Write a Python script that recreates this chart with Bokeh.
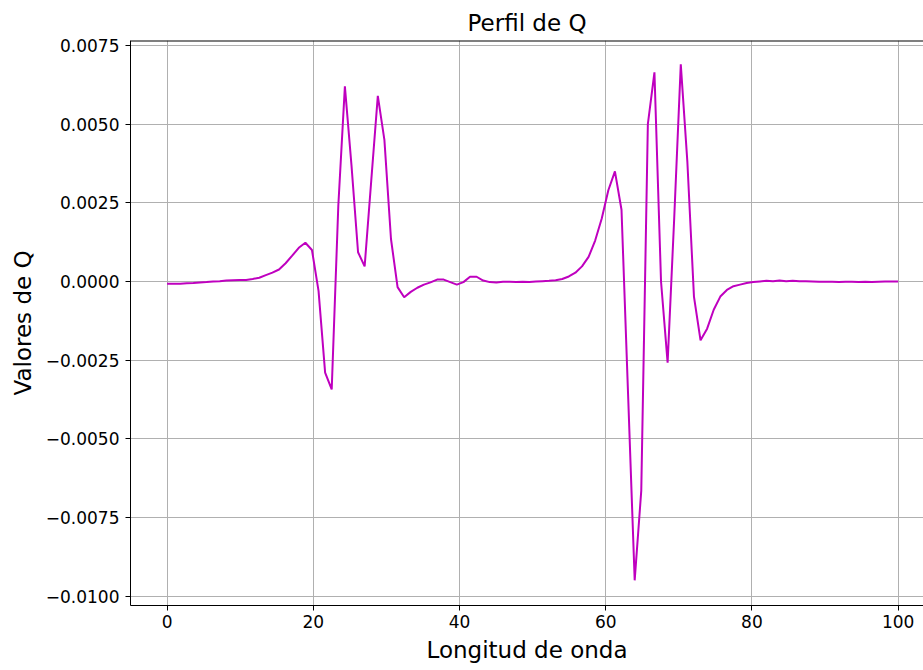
from bokeh.plotting import figure
from bokeh.models import FixedTicker, CustomJSTickFormatter, Range1d, Span
from bokeh.embed import file_html
from bokeh.resources import INLINE
import numpy as np

# Wavelength positions (112 evenly spaced samples from 0 to 100)
n_points = 112
longitud = list(np.linspace(0, 100, n_points))

# Q values
valores_q = [
    -0.00007, -0.00007, -0.00007, -0.00006, -0.00005, -0.00003, -0.00002, 0.00000,
    0.00001, 0.00003, 0.00004, 0.00005, 0.00005, 0.00008, 0.00012, 0.00020,
    0.00028, 0.00038, 0.00058, 0.00082, 0.00107, 0.00123, 0.00100, -0.00030,
    -0.00290, -0.00343, 0.00240, 0.00620, 0.00370, 0.00093, 0.00048, 0.00320,
    0.00590, 0.00450, 0.00135, -0.00018, -0.00050, -0.00033, -0.00020, -0.00010,
    -0.00003, 0.00006, 0.00006, -0.00002, -0.00010, -0.00002, 0.00015, 0.00015,
    0.00003, -0.00002, -0.00003, -0.00001, -0.00001, -0.00002, -0.00001, -0.00002,
    0.00000, 0.00001, 0.00002, 0.00004, 0.00008, 0.00016, 0.00028,
    0.00048, 0.00078, 0.00130, 0.00200, 0.00290, 0.00350, 0.00228, -0.00360,
    -0.00950, -0.00665, 0.00500, 0.00665, 0.00000, -0.00258, 0.00200, 0.00690,
    0.00380, -0.00048, -0.00187, -0.00150, -0.00090, -0.00048, -0.00027, -0.00015,
    -0.00010, -0.00005, -0.00002, 0.00000, 0.00002, 0.00001, 0.00003, 0.00001,
    0.00002, 0.00001, 0.00001, 0.00000, -0.00001, -0.00001, -0.00001, -0.00002,
    -0.00001, -0.00001, -0.00002, -0.00001, -0.00002, -0.00001, 0.00000, 0.00000,
    0.00000,
]

x_ticks = [0, 20, 40, 60, 80, 100]
y_ticks = [-0.0100, -0.0075, -0.0050, -0.0025, 0.0, 0.0025, 0.0050, 0.0075]
y_top = 0.00766
y_bottom = -0.0103

FONT = "DejaVu Sans"

p = figure(
    width=923, height=668,
    output_backend="svg", toolbar_location=None,
    x_range=Range1d(-5.0, 103.47), y_range=Range1d(y_bottom, y_top),
    min_border_left=130, min_border_right=0, min_border_top=40, min_border_bottom=63,
    title="Perfil de Q",
)

p.line(longitud, valores_q, line_color="#bf00bf", line_width=2)

# top spine only (the right spine lies outside the cropped reference)
p.add_layout(Span(location=y_top, dimension="width", line_color="black", line_width=2))

p.title.align = "center"
p.title.text_font = FONT
p.title.text_font_style = "normal"
p.title.text_font_size = "23px"
p.title.text_color = "black"

p.outline_line_color = None
p.background_fill_color = "white"
p.border_fill_color = "white"

for ax in (p.xaxis[0], p.yaxis[0]):
    ax.axis_line_color = "black"
    ax.major_tick_line_color = "black"
    ax.major_tick_out = 5
    ax.major_tick_in = 0
    ax.minor_tick_line_color = None
    ax.major_label_text_font = FONT
    ax.major_label_text_font_size = "17px"
    ax.major_label_text_color = "black"
    ax.axis_label_text_font = FONT
    ax.axis_label_text_font_size = "23px"
    ax.axis_label_text_font_style = "normal"
    ax.axis_label_text_color = "black"

p.xaxis.axis_label = "Longitud de onda"
p.yaxis.axis_label = "Valores de Q"
p.xaxis.ticker = FixedTicker(ticks=x_ticks)
p.yaxis.ticker = FixedTicker(ticks=y_ticks)
p.xaxis.major_label_standoff = 4
p.yaxis.major_label_standoff = 6
p.xaxis.axis_label_standoff = 6
p.yaxis.axis_label_standoff = 7
p.yaxis.formatter = CustomJSTickFormatter(code="return tick.toFixed(4).replace('-', '\u2212');")
p.xaxis.formatter = CustomJSTickFormatter(code="return tick.toFixed(0);")

p.xgrid.grid_line_color = "#b0b0b0"
p.ygrid.grid_line_color = "#b0b0b0"
p.xgrid.grid_line_width = 1
p.ygrid.grid_line_width = 1

open("out.html", "w").write(file_html(p, INLINE))
